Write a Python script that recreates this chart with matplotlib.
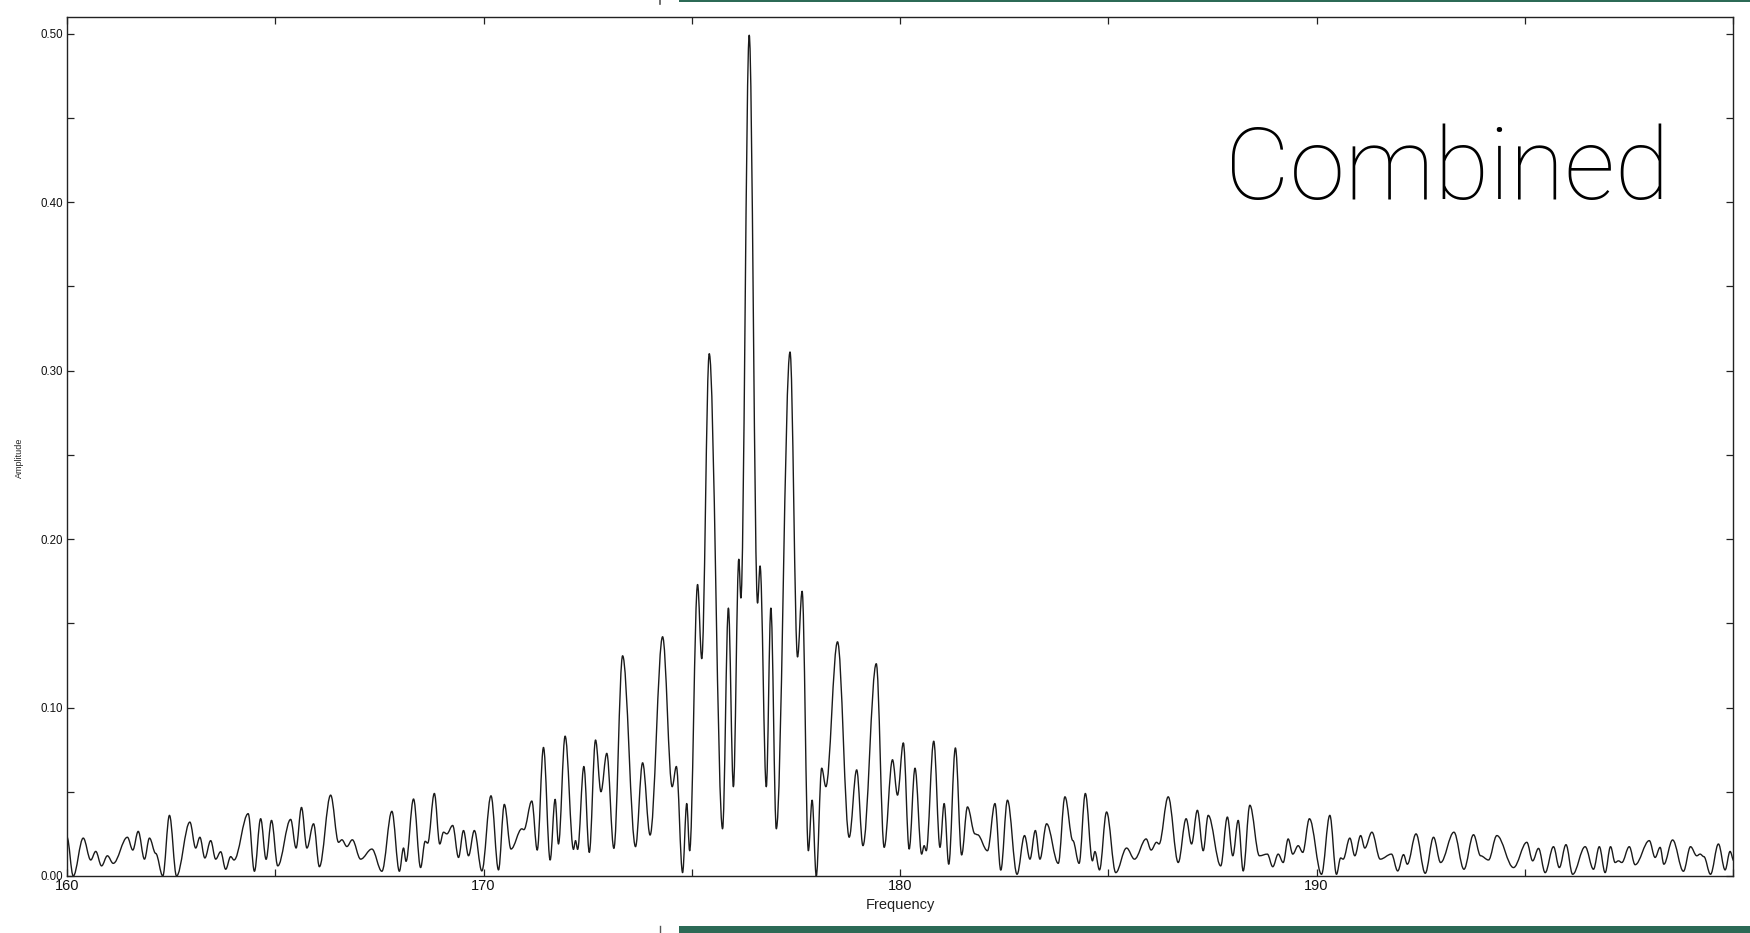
import matplotlib
matplotlib.use("Agg")
import matplotlib.pyplot as plt
from matplotlib.path import Path
from matplotlib.patches import PathPatch, Rectangle
from matplotlib.ticker import MultipleLocator, FuncFormatter
from matplotlib.lines import Line2D

# Spectrum turning points (local maxima / minima) of the combined signal
freq = [
    160.00, 160.15, 160.39, 160.57, 160.69, 160.83, 160.97, 161.11, 161.45, 161.58,
    161.71, 161.86, 161.98, 162.13, 162.30, 162.46, 162.63, 162.95, 163.09, 163.19,
    163.31, 163.45, 163.57, 163.69, 163.81, 163.93, 164.01, 164.35, 164.50, 164.65,
    164.78, 164.91, 165.06, 165.37, 165.50, 165.63, 165.76, 165.92, 166.06, 166.33,
    166.52, 166.60, 166.72, 166.85, 167.05, 167.32, 167.56, 167.80, 167.98, 168.08,
    168.14, 168.32, 168.49, 168.60, 168.66, 168.82, 168.95, 169.04, 169.12, 169.26,
    169.40, 169.52, 169.64, 169.78, 169.96, 170.18, 170.36, 170.50, 170.66, 170.92,
    170.97, 171.16,
    171.29, 171.44, 171.60, 171.72, 171.80, 171.96, 172.16, 172.21, 172.26, 172.41,
    172.54, 172.69, 172.82, 172.96, 173.13, 173.34, 173.65, 173.82, 174.00, 174.30,
    174.53, 174.63, 174.78, 174.88, 174.95, 175.14, 175.24, 175.42, 175.74, 175.88,
    176.00, 176.13, 176.18, 176.38, 176.58, 176.64, 176.79, 176.90, 177.03, 177.36,
    177.54, 177.65, 177.80, 177.89, 177.99, 178.12, 178.22, 178.50, 178.78, 178.96,
    179.11, 179.43, 179.62, 179.82, 179.94, 180.08, 180.22, 180.36, 180.52, 180.58,
    180.63, 180.81, 180.96, 181.06, 181.17, 181.33, 181.48, 181.62, 181.80, 181.86,
    182.10, 182.28,
    182.42, 182.58, 182.81, 182.99, 183.12, 183.25, 183.36, 183.52, 183.80, 183.96,
    184.15, 184.30, 184.45, 184.62, 184.68, 184.79, 184.96, 185.18, 185.44, 185.63,
    185.91, 186.03, 186.16, 186.22, 186.44, 186.68, 186.87, 187.00, 187.14, 187.28,
    187.40, 187.70, 187.86, 187.99, 188.12, 188.24, 188.40, 188.63, 188.82, 188.95,
    189.08, 189.20, 189.32, 189.43, 189.56, 189.67, 189.83, 190.12, 190.32, 190.48,
    190.58, 190.64, 190.80, 190.92, 191.06, 191.16, 191.33, 191.53, 191.80, 191.95,
    192.09, 192.18, 192.39, 192.61, 192.81, 192.98, 193.30, 193.54, 193.77, 193.94,
    194.13, 194.33, 194.73, 195.05, 195.19, 195.33, 195.49, 195.69, 195.83, 195.99,
    196.15, 196.45, 196.65, 196.79, 196.93, 197.06, 197.17, 197.25, 197.33, 197.51,
    197.65, 197.99, 198.13, 198.25, 198.34, 198.55, 198.81, 198.98, 199.13, 199.21,
    199.30, 199.46, 199.65, 199.81, 199.93, 200.02,
]
amplitude = [
    0.0230, 0.0000, 0.0225, 0.0095, 0.0146, 0.0060, 0.0120, 0.0075, 0.0230, 0.0154,
    0.0265, 0.0100, 0.0225, 0.0134, 0.0000, 0.0360, 0.0000, 0.0320, 0.0166, 0.0230,
    0.0107, 0.0210, 0.0100, 0.0144, 0.0040, 0.0115, 0.0095, 0.0370, 0.0028, 0.0340,
    0.0099, 0.0330, 0.0060, 0.0336, 0.0166, 0.0407, 0.0166, 0.0310, 0.0055, 0.0480,
    0.0200, 0.0215, 0.0175, 0.0215, 0.0100, 0.0160, 0.0028, 0.0384, 0.0028, 0.0166,
    0.0087, 0.0457, 0.0050, 0.0206, 0.0195, 0.0490, 0.0190, 0.0260, 0.0250, 0.0300,
    0.0110, 0.0270, 0.0120, 0.0270, 0.0030, 0.0476, 0.0036, 0.0425, 0.0160, 0.0280,
    0.0275, 0.0445,
    0.0154, 0.0763, 0.0095, 0.0455, 0.0190, 0.0830, 0.0158, 0.0210, 0.0158, 0.0650,
    0.0140, 0.0807, 0.0500, 0.0728, 0.0164, 0.1307, 0.0174, 0.0672, 0.0243, 0.1420,
    0.0530, 0.0650, 0.0020, 0.0430, 0.0150, 0.1730, 0.1290, 0.3100, 0.0280, 0.1590,
    0.0530, 0.1880, 0.1650, 0.4990, 0.1620, 0.1840, 0.0530, 0.1590, 0.0280, 0.3110,
    0.1300, 0.1690, 0.0150, 0.0450, 0.0000, 0.0640, 0.0530, 0.1390, 0.0230, 0.0630,
    0.0180, 0.1260, 0.0170, 0.0690, 0.0480, 0.0790, 0.0160, 0.0640, 0.0130, 0.0180,
    0.0150, 0.0800, 0.0170, 0.0430, 0.0070, 0.0760, 0.0125, 0.0410, 0.0250, 0.0245,
    0.0150, 0.0430,
    0.0035, 0.0450, 0.0010, 0.0240, 0.0100, 0.0270, 0.0100, 0.0310, 0.0075, 0.0470,
    0.0210, 0.0075, 0.0490, 0.0090, 0.0145, 0.0036, 0.0380, 0.0020, 0.0166, 0.0100,
    0.0220, 0.0154, 0.0200, 0.0190, 0.0470, 0.0080, 0.0340, 0.0190, 0.0390, 0.0150,
    0.0360, 0.0060, 0.0350, 0.0120, 0.0330, 0.0030, 0.0420, 0.0120, 0.0130, 0.0055,
    0.0130, 0.0080, 0.0220, 0.0130, 0.0180, 0.0140, 0.0340, 0.0010, 0.0360, 0.0010,
    0.0107, 0.0100, 0.0225, 0.0120, 0.0240, 0.0166, 0.0260, 0.0100, 0.0130, 0.0030,
    0.0127, 0.0070, 0.0250, 0.0016, 0.0230, 0.0080, 0.0260, 0.0040, 0.0245, 0.0120,
    0.0095, 0.0240, 0.0050, 0.0200, 0.0090, 0.0164, 0.0020, 0.0174, 0.0050, 0.0186,
    0.0010, 0.0174, 0.0040, 0.0174, 0.0020, 0.0174, 0.0080, 0.0090, 0.0080, 0.0174,
    0.0067, 0.0210, 0.0110, 0.0170, 0.0070, 0.0214, 0.0028, 0.0174, 0.0120, 0.0130,
    0.0115, 0.0010, 0.0190, 0.0036, 0.0146, 0.0090,
]

x_ticks_labelled = [160, 170, 180, 190]
title_text = "Combined"

W, H = 1750, 933
fig = plt.figure(figsize=(W / 100, H / 100), dpi=100)
fig.patch.set_facecolor("white")

ax_left, ax_right, ax_top, ax_bottom = 67, 1733, 16.7, 876
ax = fig.add_axes([ax_left / W, 1 - ax_bottom / H,
                   (ax_right - ax_left) / W, (ax_bottom - ax_top) / H])

# Smooth trace through the turning points: flat tangents at every extremum
k = 0.36
verts = [(freq[0], amplitude[0])]
codes = [Path.MOVETO]
for i in range(1, len(freq)):
    x0, y0 = freq[i - 1], amplitude[i - 1]
    x1, y1 = freq[i], amplitude[i]
    dx = x1 - x0
    verts += [(x0 + k * dx, y0), (x1 - k * dx, y1), (x1, y1)]
    codes += [Path.CURVE4] * 3
trace = PathPatch(Path(verts, codes), fill=False, edgecolor="#1a1a1a",
                  linewidth=1.0, transform=ax.transData, joinstyle="round")
ax.add_patch(trace)

ax.set_xlim(160, 200)
ax.set_ylim(0, 0.51)

ax.xaxis.set_major_locator(MultipleLocator(5))
ax.xaxis.set_major_formatter(FuncFormatter(
    lambda v, p: f"{v:.0f}" if round(v) in x_ticks_labelled else ""))
ax.yaxis.set_major_locator(MultipleLocator(0.1))
ax.yaxis.set_minor_locator(MultipleLocator(0.05))
ax.yaxis.set_major_formatter(FuncFormatter(lambda v, p: f"{v:.2f}"))

ax.tick_params(which="both", direction="in", top=True, right=True,
               length=5, width=0.9, color="#222222")
ax.tick_params(axis="x", labelsize=10.5, pad=2, labelcolor="#111111")
ax.tick_params(axis="y", labelsize=8.3, pad=3, labelcolor="#111111")
for lab in ax.get_xticklabels() + ax.get_yticklabels():
    lab.set_family(["Liberation Sans", "DejaVu Sans"])
for s in ax.spines.values():
    s.set_linewidth(1.0)
    s.set_color("#222222")

ax.set_xlabel("Frequency", fontsize=10.5, family=["Liberation Sans", "DejaVu Sans"],
              color="#222222")
ax.xaxis.set_label_coords(0.5, -0.0255)
ax.xaxis.label.set_va("top")
ax.set_ylabel("Amplitude", fontsize=6.5, family=["Liberation Sans", "DejaVu Sans"],
              color="#222222")
ax.yaxis.set_label_coords((19 - ax_left) / (ax_right - ax_left), 0.487)
ax.yaxis.label.set_va("center")

fig.text(1669 / W, 1 - 199 / H, title_text, ha="right", va="baseline",
         fontsize=72, family=["Roboto", "DejaVu Sans"], fontweight="light",
         color="black")

# Slide trim: green rules along the top and bottom edges
green = "#2c6a56"
fig.patches.append(Rectangle((679 / W, 1 - 2 / H), 1 - 679 / W, 2 / H,
                             transform=fig.transFigure, facecolor=green,
                             edgecolor="none"))
fig.patches.append(Rectangle((679 / W, 0), 1 - 679 / W, 7 / H,
                             transform=fig.transFigure, facecolor=green,
                             edgecolor="none"))
fig.lines.append(Line2D([660 / W, 660 / W], [1, 1 - 4 / H],
                        transform=fig.transFigure, color="#555555", lw=1.2))
fig.lines.append(Line2D([660 / W, 660 / W], [0, 7 / H],
                        transform=fig.transFigure, color="#555555", lw=1.0))

fig.savefig("out.png", dpi=100)
